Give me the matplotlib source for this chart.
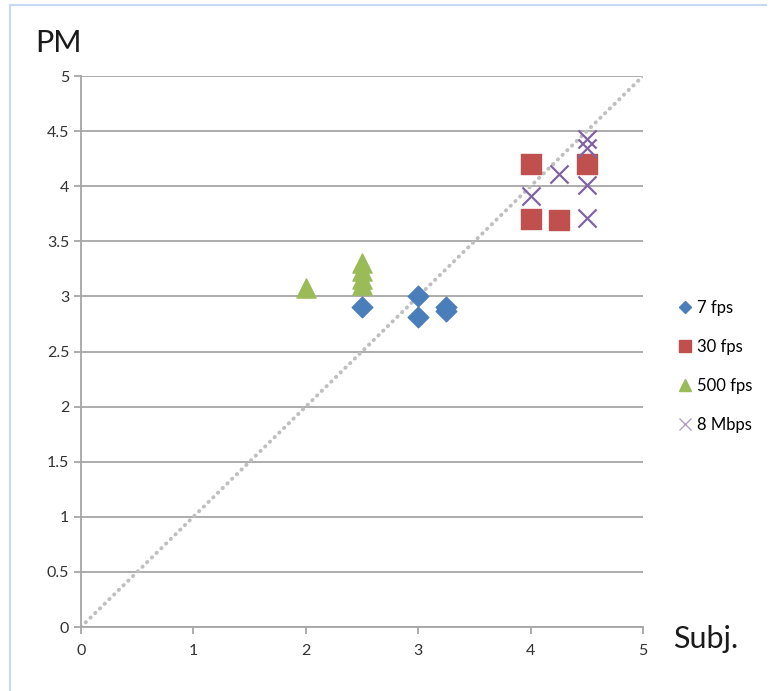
import matplotlib
matplotlib.use('Agg')
from matplotlib import pyplot as plt
from matplotlib.lines import Line2D

plt.rcParams['font.family'] = ['Lato', 'DejaVu Sans']

# Data
fps7_x = [2.5, 3.0, 3.0, 3.25, 3.25]
fps7_y = [2.9, 3.0, 2.81, 2.9, 2.87]

fps30_x = [4.0, 4.0, 4.25, 4.5]
fps30_y = [4.2, 3.7, 3.69, 4.2]

fps500_x = [2.0, 2.5, 2.5, 2.5, 2.5]
fps500_y = [3.08, 3.3, 3.23, 3.16, 3.1]

mbps8_x = [4.0, 4.25, 4.5, 4.5, 4.5, 4.5]
mbps8_y = [3.91, 4.11, 4.43, 4.35, 4.01, 3.71]

labels = ['7 fps', '30 fps', '500 fps', '8 Mbps']
yticks = [0, 0.5, 1, 1.5, 2, 2.5, 3, 3.5, 4, 4.5, 5]
xticks = [0, 1, 2, 3, 4, 5]

fig = plt.figure(figsize=(7.75, 6.91), dpi=100)
ax = fig.add_axes([0.1045, 0.0926, 0.7252, 0.7974])

grey = '#a6a6a6'

# diagonal reference line
ax.plot([0, 5], [0, 5], color='#bfbfbf', linestyle=(0, (0.1, 1.6)),
        linewidth=2.8, dash_capstyle='round', zorder=2)

ax.scatter(fps7_x, fps7_y, marker='D', s=110, color='#4a7ebb', zorder=3)
ax.scatter(fps30_x, fps30_y, marker='s', s=190, color='#c0504d', zorder=3)
ax.scatter(fps500_x, fps500_y, marker='^', s=190, color='#9bbb59', zorder=3)
ax.scatter(mbps8_x, mbps8_y, marker='x', s=170, color='#8064a2',
           linewidths=1.6, zorder=4)

ax.set_xlim(0, 5)
ax.set_ylim(0, 5)
ax.set_xticks(xticks)
ax.set_yticks(yticks)
ax.set_xticklabels([str(t) for t in xticks])
ax.set_yticklabels(['0', '0.5', '1', '1.5', '2', '2.5', '3', '3.5', '4', '4.5', '5'])
ax.grid(axis='y', color=grey, linewidth=1.3)
ax.set_axisbelow(True)
for side in ['top', 'right']:
    ax.spines[side].set_visible(False)
for side in ['left', 'bottom']:
    ax.spines[side].set_color(grey)
    ax.spines[side].set_linewidth(1.3)
ax.tick_params(axis='both', direction='out', length=5, color=grey,
               labelsize=11.5, labelcolor='#333333', width=1.3)
ax.tick_params(axis='x', pad=7)

fig.text(0.045, 0.925, 'PM', fontsize=22, color='#1a1a1a')
fig.text(0.868, 0.062, 'Subj.', fontsize=22, color='#1a1a1a')

handles = [
    Line2D([], [], marker='D', linestyle='', color='#4a7ebb', markersize=6),
    Line2D([], [], marker='s', linestyle='', color='#c0504d', markersize=9),
    Line2D([], [], marker='^', linestyle='', color='#9bbb59', markersize=9),
    Line2D([], [], marker='x', linestyle='', color='#8064a2', markersize=9,
           markeredgewidth=1.0, alpha=0.6),
]
fig.legend(handles, labels, loc='upper left', bbox_to_anchor=(0.865, 0.578),
           frameon=False, fontsize=12, labelspacing=1.38, handlelength=0.8,
           handletextpad=0.3, borderpad=0)

# light blue frame from the original screenshot
fig.add_artist(Line2D([10 / 775, 766 / 775], [1 - 5 / 691, 1 - 5 / 691],
                      color='#c6d9f1', linewidth=1.5))
fig.add_artist(Line2D([10 / 775, 10 / 775], [1 - 5 / 691, 0],
                      color='#c6d9f1', linewidth=1.5))

fig.savefig('out.png', dpi=100, facecolor='white')
